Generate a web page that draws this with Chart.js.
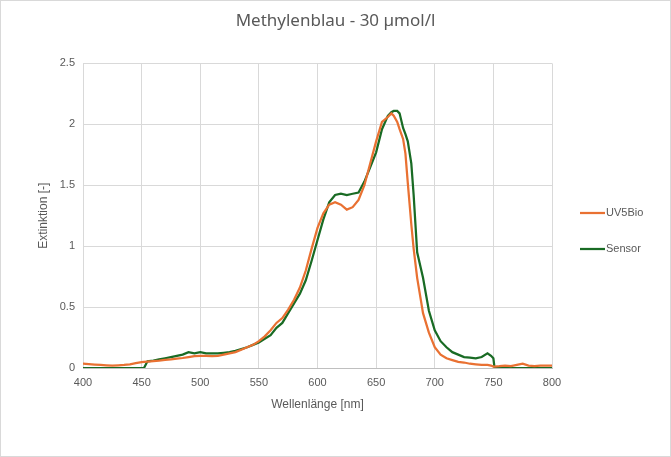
<!DOCTYPE html>
<html>
<head>
<meta charset="utf-8">
<script src="https://cdn.jsdelivr.net/npm/chart.js@4/dist/chart.umd.min.js"></script>
<style>
html,body{margin:0;padding:0;background:#fff;}
canvas{display:block;}
</style>
</head>
<body>
<canvas id="c" width="671" height="457"></canvas>
<script>
const chartTitle = "Methylenblau - 30 µmol/l";
const xTitle = "Wellenlänge [nm]";
const yTitle = "Extinktion [-]";
const seriesNames = ["UV5Bio", "Sensor"];

const wavelengths = [400,405,410,415,420,425,430,435,440,445,450,452,455,460,465,470,475,480,485,490,495,500,505,510,515,520,525,530,535,540,545,550,555,560,565,570,575,580,585,590,595,600,605,610,615,620,625,630,635,640,645,650,655,660,663,665,668,670,673,675,677,680,682,685,690,695,700,705,710,715,720,725,730,735,740,745,748,750,751,755,760,765,770,775,780,785,790,795,800];

const uv5bio = [0.035,0.032,0.028,0.025,0.022,0.02,0.022,0.025,0.03,0.04,0.048,0.05,0.052,0.056,0.06,0.066,0.07,0.076,0.082,0.09,0.098,0.1,0.1,0.098,0.1,0.11,0.12,0.13,0.15,0.17,0.19,0.22,0.26,0.31,0.37,0.41,0.48,0.56,0.66,0.8,0.98,1.15,1.27,1.34,1.36,1.34,1.3,1.32,1.38,1.5,1.68,1.86,2.02,2.06,2.09,2.07,2.02,1.96,1.88,1.76,1.52,1.18,0.98,0.74,0.45,0.29,0.17,0.11,0.08,0.065,0.05,0.045,0.035,0.03,0.025,0.025,0.02,0.012,0.012,0.015,0.02,0.015,0.025,0.035,0.02,0.015,0.02,0.02,0.02];

const sensor = [0,0,0,0,0,0,0,0,0,0,0,0,0.055,0.06,0.07,0.08,0.09,0.1,0.11,0.13,0.12,0.13,0.12,0.12,0.12,0.125,0.13,0.14,0.155,0.17,0.19,0.21,0.24,0.27,0.33,0.37,0.45,0.53,0.61,0.72,0.88,1.05,1.22,1.36,1.42,1.43,1.42,1.43,1.44,1.53,1.65,1.77,1.96,2.07,2.1,2.11,2.11,2.09,1.97,1.92,1.86,1.68,1.42,0.95,0.74,0.47,0.31,0.22,0.17,0.13,0.11,0.09,0.085,0.08,0.09,0.12,0.1,0.08,0,0,0,0,0,0,0,0,0,0,0];

const xTicks = [400,450,500,550,600,650,700,750,800];
const yTicks = [0,0.5,1,1.5,2,2.5];

const colors = ["#E97132", "#196B24"];
const textColor = "#595959";
const tickFont = "'Liberation Sans', Arial, sans-serif";

function pts(vals){ return wavelengths.map((w,i)=>({x:w,y:vals[i]})); }

const bgPlugin = {
  id: 'bg',
  beforeDraw(chart){
    const ctx = chart.ctx;
    ctx.save();
    ctx.fillStyle = '#fff';
    ctx.fillRect(0,0,chart.width,chart.height);
    ctx.strokeStyle = '#d9d9d9';
    ctx.lineWidth = 1;
    ctx.strokeRect(0.5,0.5,chart.width-1,chart.height-1);
    ctx.restore();
  }
};

const legendPlugin = {
  id: 'sideLegend',
  afterDraw(chart){
    const ctx = chart.ctx;
    ctx.save();
    const ys = [213, 249];
    chart.data.datasets.forEach((ds,i)=>{
      const y = ys[i];
      ctx.strokeStyle = ds.borderColor;
      ctx.lineWidth = 2.25;
      ctx.beginPath();
      ctx.moveTo(580, y);
      ctx.lineTo(605, y);
      ctx.stroke();
      ctx.fillStyle = textColor;
      ctx.font = "11px " + tickFont;
      ctx.textBaseline = 'middle';
      ctx.textAlign = 'left';
      ctx.fillText(ds.label, 606, y);
    });
    ctx.restore();
  }
};

new Chart(document.getElementById('c'), {
  type: 'line',
  data: {
    datasets: [
      {label: seriesNames[0], data: pts(uv5bio), borderColor: colors[0], backgroundColor: colors[0], borderWidth: 2.25, pointRadius: 0, tension: 0, fill: false},
      {label: seriesNames[1], data: pts(sensor), borderColor: colors[1], backgroundColor: colors[1], borderWidth: 2.25, pointRadius: 0, tension: 0, fill: false}
    ]
  },
  options: {
    responsive: false,
    animation: false,
    layout: {padding: 0},
    plugins: {
      legend: {display: false},
      tooltip: {enabled: false},
      title: {
        display: true,
        text: chartTitle,
        color: textColor,
        font: {family: "'Noto Sans', sans-serif", size: 17, weight: 'normal'},
        padding: {top: 11, bottom: 32}
      }
    },
    scales: {
      x: {
        type: 'linear',
        min: 400, max: 800,
        afterBuildTicks(scale){ scale.ticks = xTicks.map(v=>({value:v})); },
        afterFit(scale){ scale.height = 89; },
        ticks: {color: textColor, font: {family: tickFont, size: 11}, padding: 8, maxRotation: 0},
        grid: {color: '#d9d9d9', drawTicks: false, lineWidth: 1},
        border: {display: true, color: '#bfbfbf'},
        title: {display: true, text: xTitle, color: textColor, font: {family: tickFont, size: 12}, padding: {top: 4, bottom: 45}}
      },
      y: {
        type: 'linear',
        min: 0, max: 2.5,
        afterBuildTicks(scale){ scale.ticks = yTicks.map(v=>({value:v})); },
        afterFit(scale){ scale.width = 83; },
        ticks: {color: textColor, font: {family: tickFont, size: 11}, padding: 8, callback: v => String(v)},
        grid: {color: '#d9d9d9', drawTicks: false, lineWidth: 1},
        border: {display: false},
        title: {display: true, text: yTitle, color: textColor, font: {family: tickFont, size: 12}, padding: {top: 36, bottom: 0}}
      },
      legendSpace: {
        type: 'linear',
        position: 'right',
        display: true,
        afterFit(scale){ scale.width = 119; },
        ticks: {display: false},
        grid: {display: false, drawTicks: false},
        border: {display: false}
      }
    }
  },
  plugins: [bgPlugin, legendPlugin]
});
</script>
</body>
</html>
